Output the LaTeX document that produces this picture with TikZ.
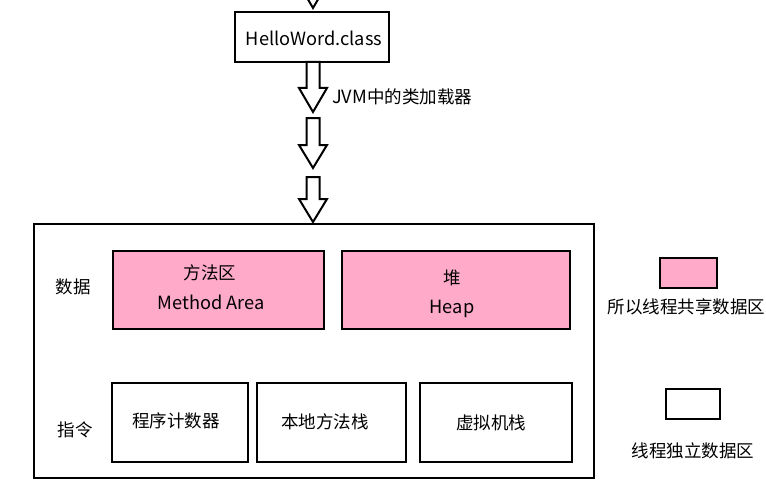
\documentclass[tikz,border=0pt]{standalone}
\usepackage{fontspec}
\setmainfont{Noto Sans CJK SC}
\definecolor{pinkfill}{RGB}{255,170,200}
\begin{document}
\begin{tikzpicture}[x=1pt,y=-1pt,
  box/.style={draw=black,line width=2pt,inner sep=0pt,fill=white},
  pbox/.style={box,fill=pinkfill},
  txt/.style={inner sep=0pt,font=\fontsize{17.5}{20}\selectfont},
  lat/.style={txt,font=\fontsize{18.2}{20}\selectfont},
  barrow/.style={draw=black,line width=2pt,fill=white,line join=miter}]
\useasboundingbox (0,0) rectangle (766,487);
\clip (0,0) rectangle (766,487);
% top partial arrow
\draw[barrow] (299,-16) -- (313,8) -- (327,-16);
% HelloWord box
\node[box,minimum width=154,minimum height=50] (hello) at (312,37) {};
\node[lat] (hellot) at (314,38) {HelloWord.class};
% block arrows
\draw[barrow] (306.5,62) -- (306.5,88) -- (299,88) -- (313,112) -- (327,88) -- (319.5,88) -- (319.5,62) -- cycle;
\node[txt,anchor=west] (jvm) at (332,97) {\fontsize{18.2}{20}\selectfont JVM\fontsize{17.5}{20}\selectfont 中的类加载器};
\draw[barrow] (306.5,118) -- (306.5,145) -- (299,145) -- (313,168) -- (327,145) -- (319.5,145) -- (319.5,118) -- cycle;
\draw[barrow] (306.5,177) -- (306.5,199) -- (299,199) -- (313,222) -- (327,199) -- (319.5,199) -- (319.5,177) -- cycle;
% main box
\node[box,minimum width=560,minimum height=254] (main) at (314,351) {};
\node[pbox,minimum width=211,minimum height=78] (meth) at (218.5,290) {};
\node[pbox,minimum width=228,minimum height=78] (heap) at (456,290) {};
\node[txt] (metht1) at (210,273) {方法区};
\node[lat] (metht2) at (211,302) {Method Area};
\node[txt] (heapt1) at (452,278) {堆};
\node[lat] (heapt2) at (452,309) {Heap};
\node[txt] (data) at (73,287) {数据};
\node[txt] (instr) at (75,430) {指令};
\node[box,minimum width=136,minimum height=79] (pc) at (180,422.5) {};
\node[box,minimum width=149,minimum height=79] (native) at (331.5,422.5) {};
\node[box,minimum width=152,minimum height=79] (vms) at (496,422.5) {};
\node[txt] (pct) at (176,421) {程序计数器};
\node[txt] (nativet) at (325,422) {本地方法栈};
\node[txt] (vmst) at (491,423) {虚拟机栈};
% legend
\node[pbox,minimum width=57,minimum height=30] (legp) at (688.5,273) {};
\node[txt] (legpt) at (686.5,307) {所以线程共享数据区};
\node[box,minimum width=54,minimum height=30] (legw) at (693,404) {};
\node[txt] (legwt) at (693,451) {线程独立数据区};
\end{tikzpicture}
\end{document}
